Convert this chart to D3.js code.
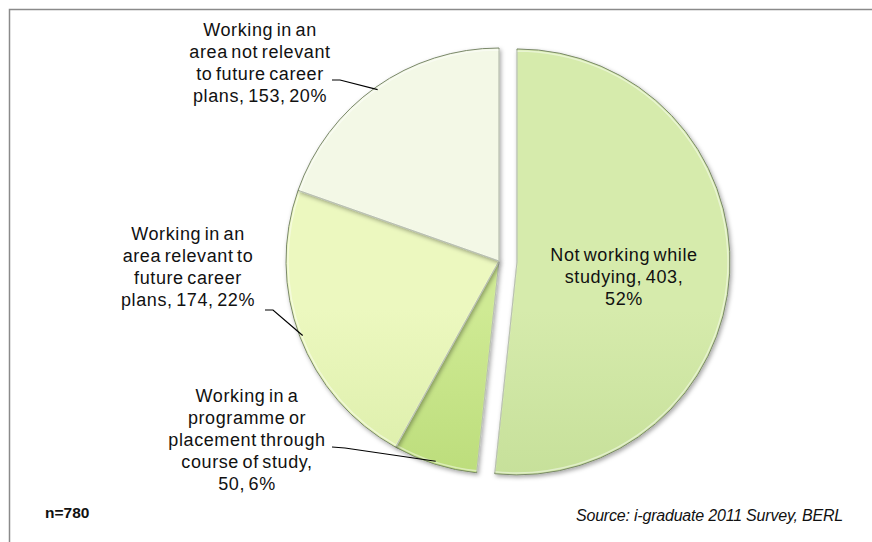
<!DOCTYPE html>
<html>
<head>
<meta charset="utf-8">
<script src="https://cdn.jsdelivr.net/npm/d3@7/dist/d3.min.js"></script>
<style>
  html, body { margin: 0; padding: 0; background: #fff; }
  svg { display: block; }
  .lbl { font-family: "Liberation Sans", Arial, sans-serif; font-size: 18px; fill: #111; letter-spacing: 0.6px; word-spacing: -2px; }
</style>
</head>
<body>
<svg id="chart" width="872" height="542"></svg>
<script>
// ---- data ----
const categories = [
  "Not working while studying",
  "Working in a programme or placement through course of study",
  "Working in an area relevant to future career plans",
  "Working in an area not relevant to future career plans"
];
const counts = [403, 50, 174, 153];
const percents = ["52%", "6%", "22%", "20%"];
const labelLines = [
  ["Not working while", "studying, 403,", "52%"],
  ["Working in a", "programme or", "placement through", "course of study,", "50, 6%"],
  ["Working in an", "area relevant to", "future career", "plans, 174, 22%"],
  ["Working in an", "area not relevant", "to future career", "plans, 153, 20%"]
];
const sampleNote = "n=780";
const sourceNote = "Source: i-graduate 2011 Survey, BERL";

// ---- layout ----
const W = 872, H = 542;
const cx = 499, cy = 261, R = 213, explode = 18;
// label placement: centre x, first baseline, leader start (null = inside)
const labelLayout = [
  { x: 624, y: 261, lead: null },
  { x: 247, y: 402, lead: [[332, 447], [345, 448]] },
  { x: 188, y: 240, lead: [[265, 310], [273, 310]] },
  { x: 260, y: 36,  lead: [[332, 80], [340, 80]] }
];
const gradStops = [
  [["0%", "#d6ebac"], ["50%", "#c2dd95"], ["100%", "#8fb055"]],
  [["0%", "#cfea94"], ["100%", "#9fc955"]],
  [["0%", "#ecf8bf"], ["100%", "#c3de88"]],
  [["0%", "#f3f8e6"], ["100%", "#d9e7bf"]]
];

const svg = d3.select("#chart");
const defs = svg.append("defs");

const filt = defs.append("filter").attr("id", "shadow")
  .attr("x", "-10%").attr("y", "-10%").attr("width", "120%").attr("height", "120%");
filt.append("feDropShadow").attr("dx", 1.5).attr("dy", 2).attr("stdDeviation", 2)
  .attr("flood-color", "#000").attr("flood-opacity", 0.35);

gradStops.forEach((stops, i) => {
  const g = defs.append("linearGradient").attr("id", "g" + i)
    .attr("gradientUnits", "userSpaceOnUse")
    .attr("x1", 0).attr("x2", 0).attr("y1", cy - R).attr("y2", cy + R);
  stops.forEach(s => g.append("stop").attr("offset", s[0]).attr("stop-color", s[1]));
});

// frame
svg.append("rect").attr("x", 9.5).attr("y", 9.5).attr("width", W + 20).attr("height", H + 20)
  .attr("fill", "none").attr("stroke", "#8a8a8a").attr("stroke-width", 1.5);

const pie = d3.pie().sort(null).value(d => d).startAngle(0).endAngle(2 * Math.PI);
const arcs = pie(counts);
const arc = d3.arc().innerRadius(0).outerRadius(R);

const gPie = svg.append("g");
arcs.forEach((a, i) => {
  const mid = (a.startAngle + a.endAngle) / 2;
  const off = i === 0 ? explode : 0;
  const ox = cx + off * Math.sin(mid), oy = cy - off * Math.cos(mid);
  gPie.append("path")
    .attr("transform", `translate(${ox},${oy})`)
    .attr("d", arc(a))
    .attr("fill", `url(#g${i})`)
    .attr("stroke", "#7a886a")
    .attr("stroke-width", 1)
    .attr("stroke-linejoin", "round")
    .attr("filter", "url(#shadow)");
  // inner highlight
  gPie.append("path")
    .attr("transform", `translate(${ox},${oy})`)
    .attr("d", d3.arc().innerRadius(0).outerRadius(R - 2)(a))
    .attr("fill", "none")
    .attr("stroke", "rgba(255,255,255,0.45)")
    .attr("stroke-width", 1.5);
});

// labels and leaders
arcs.forEach((a, i) => {
  const L = labelLayout[i];
  const t = svg.append("text").attr("class", "lbl").attr("text-anchor", "middle");
  labelLines[i].forEach((ln, k) => {
    t.append("tspan").attr("x", L.x).attr("y", L.y + k * 22).text(ln);
  });
  if (L.lead) {
    const mid = (a.startAngle + a.endAngle) / 2;
    const end = [cx + (R - 3) * Math.sin(mid), cy - (R - 3) * Math.cos(mid)];
    svg.append("path")
      .attr("d", d3.line()([L.lead[0], L.lead[1], end]))
      .attr("fill", "none").attr("stroke", "#000").attr("stroke-width", 1.2);
  }
});

svg.append("text").attr("x", 45).attr("y", 518)
  .attr("font-family", "Liberation Sans, Arial, sans-serif").attr("font-size", 15.5)
  .attr("font-weight", "bold").attr("fill", "#111").text(sampleNote);

svg.append("text").attr("x", 843).attr("y", 521).attr("text-anchor", "end")
  .attr("font-family", "Liberation Sans, Arial, sans-serif").attr("font-size", 16)
  .attr("font-style", "italic").attr("letter-spacing", "-0.2px").attr("fill", "#111").text(sourceNote);
</script>
</body>
</html>
